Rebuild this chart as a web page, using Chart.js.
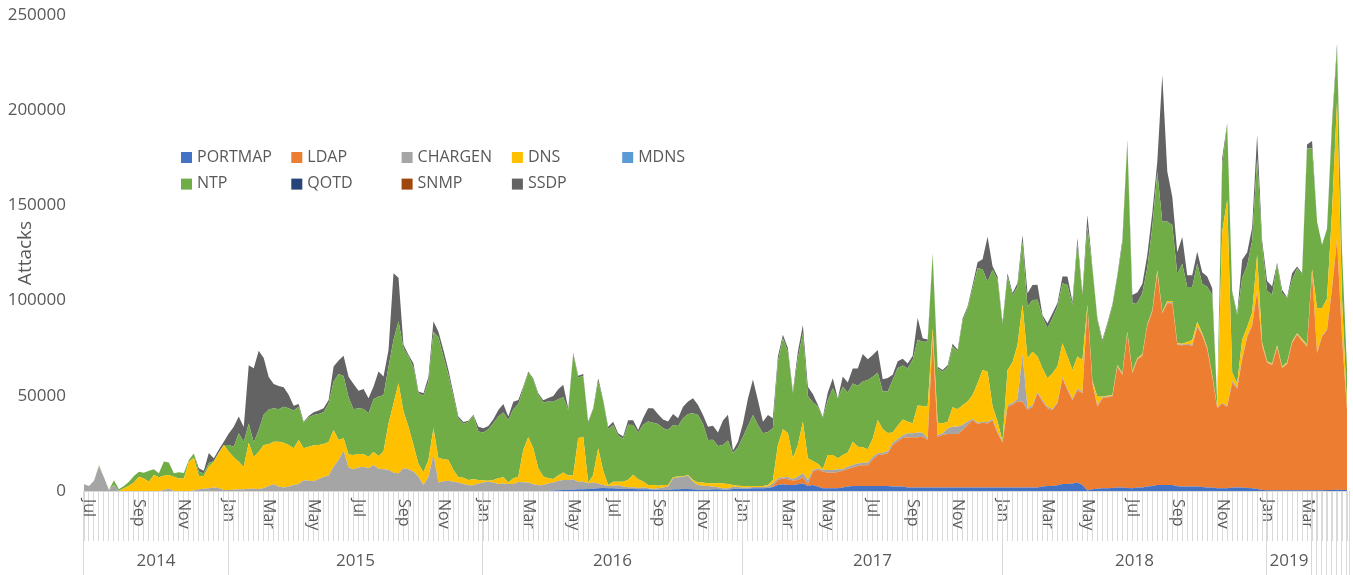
<!DOCTYPE html>
<html lang="en">
<head>
<meta charset="utf-8">
<title>Attacks per week</title>
<script src="https://cdn.jsdelivr.net/npm/chart.js@4.4.1/dist/chart.umd.min.js"></script>
<style>
  body { margin: 0; background: #ffffff; }
  canvas { display: block; }
</style>
</head>
<body>
<canvas id="attacksChart" width="1353" height="575"></canvas>
<script>
// Attacks per week, in thousands, one value per week (late June 2014 - April 2019)

const portmap = [
  0,0,0,0,0,0,0,0,0,0,
  0,0,0,0,0,0,0,0,0,0,
  0,0,0,0,0,0,0,0,0,0,
  0,0,0,0,0,0,0,0,0,0,
  0,0,0,0,0,0,0,0,0,0,
  0,0,0,0,0,0,0,0,0,0,
  0,0,0,0,0,0,0,0,0,0,
  0,0,0,0,0,0,0,0,0,0,
  0,0,0,0,0,0,0,0,0,0,
  0,0,0,0,0.2,0.4,0.5,0.5,0.7,0.9,
  0.9,1.1,1.2,1.4,1.6,1.4,1.4,1.2,1.1,1.1,
  1.1,0.9,0.9,0.9,0.7,0.7,0.5,0.5,0.9,0.9,
  1.1,1.1,0.9,0.7,0.7,0.7,0.9,0.9,0.7,0.7,
  1.1,1.2,1.2,1.2,1.4,1.4,1.4,1.6,2.1,3.2,
  3.5,3.2,3.2,3.5,4.0,2.6,3.2,2.3,1.4,1.4,
  1.4,1.4,1.9,2.3,2.6,2.6,2.6,2.6,2.6,2.6,
  2.6,2.6,2.3,2.3,2.3,1.9,1.9,1.9,1.9,1.9,
  1.9,1.9,1.9,1.9,1.9,1.8,1.9,1.9,1.8,1.9,
  1.9,1.9,1.8,1.8,1.9,1.9,1.9,1.9,1.9,1.9,
  1.9,1.9,2.3,2.6,2.6,3.0,3.7,3.7,4.0,4.4,
  3.2,0.2,0.9,1.2,1.4,1.4,1.6,1.8,1.9,1.6,
  1.4,1.8,1.9,2.3,2.6,3.2,3.2,3.2,3.2,2.5,
  2.3,2.3,2.3,2.3,2.1,1.9,1.8,1.4,1.4,1.4,
  1.8,1.8,1.8,1.6,1.4,1.1,0.5,0.4,0.4,0.4,
  0.4,0.4,0.4,0.4,0.4,0.4,0.4,0.4,0.4,0.5,
  0.5,0.7,0.5,0.5
];

const ldap = [
  0,0,0,0,0,0,0,0,0,0,
  0,0,0,0,0,0,0,0,0,0,
  0,0,0,0,0,0,0,0,0,0,
  0,0,0,0,0,0,0,0,0,0,
  0,0,0,0,0,0,0,0,0,0,
  0,0,0,0,0,0,0,0,0,0,
  0,0,0,0,0,0,0,0,0,0,
  0,0,0,0,0,0,0,0,0,0,
  0,0,0,0,0,0,0,0,0,0,
  0,0,0,0,0,0,0,0,0,0,
  0,0,0,0,0,0,0,0,0,0,
  0,0,0,0,0,0,0,0,0,0,
  0,0,0,0,0,0,0,0,0,0,
  0,0,0,0,0,0,0,0,0.5,2.6,
  3.0,3.0,2.3,2.3,3.2,0.9,7.0,8.8,8.8,8.2,
  8.2,8.6,8.8,9.3,9.8,10.5,10.9,10.9,14.0,16.3,
  16.6,17.2,21.9,23.8,25.6,26.3,26.3,26.3,26.6,24.9,
  79.1,26.6,27.5,28.0,28.0,28.2,30.1,32.8,35.5,33.3,
  34.0,33.6,35.2,28.5,23.6,42.4,43.4,45.2,45.0,40.6,
  42.4,49.4,44.6,40.8,39.9,43.1,55.5,49.4,43.8,48.7,
  48.1,96.6,55.5,43.0,47.3,47.8,48.0,63.5,59.0,81.2,
  60.4,67.2,69.0,84.6,91.4,111.1,90.1,95.4,95.4,74.2,
  74.2,74.6,73.9,84.0,79.6,72.6,58.3,42.0,44.6,42.9,
  55.1,51.9,67.2,79.3,85.4,103.6,75.8,66.9,65.6,75.1,
  64.1,66.3,77.2,81.6,78.4,75.4,114.3,72.0,80.7,84.0,
  105.9,131.1,80.0,42.0
];

const chargen = [
  3.5,2.6,5.4,13.0,7.2,0.5,3.1,0,0,0,
  0,0,0,0,0,0,0.5,1.2,0,0,
  0,0,0.3,0.9,1.2,1.4,1.8,1.6,0.5,0.5,
  0.7,0.9,0.9,1.2,1.2,1.0,1.6,2.6,3.5,2.3,
  1.9,2.3,3.2,3.7,5.6,5.4,5.1,6.3,7.4,8.2,
  12.8,16.3,21.2,12.4,11.4,12.4,12.8,11.9,13.7,11.7,
  11.4,11.2,9.6,9.3,11.9,11.4,10.3,7.5,3.2,7.5,
  19.0,4.4,5.1,5.4,4.9,4.4,3.7,3.0,3.0,4.0,
  4.4,4.9,4.4,3.7,4.0,3.7,3.7,4.7,4.6,4.4,
  3.5,3.0,3.2,3.9,4.2,4.9,5.3,5.3,5.4,4.0,
  4.0,3.0,3.2,2.6,1.6,1.2,1.4,1.8,1.2,0.9,
  0.9,0.7,1.1,0.5,0.4,0.7,1.4,1.8,5.8,6.3,
  6.3,7.0,4.0,2.5,2.1,1.9,1.4,1.1,0.7,0.7,
  1.1,0.9,0.7,0.7,0.7,0.7,0.7,0.7,1.4,0.9,
  0.7,1.1,0.7,1.8,2.1,2.3,0.9,0.7,0.9,1.4,
  1.4,1.4,0.7,1.2,1.2,1.4,1.4,1.4,1.4,0.9,
  0.9,1.1,1.2,1.2,1.2,2.1,2.1,2.5,2.1,0.9,
  0.9,0.9,0.9,2.9,3.9,3.9,2.6,1.8,0.7,0.7,
  0.5,0.7,0.7,0.9,0.4,0.9,0.9,1.2,25.0,0.9,
  0.9,0.7,0.9,0.9,0.7,0.7,0.5,0.7,0.7,0.7,
  0.7,0.4,0.5,0.7,0.5,0.4,0.4,0.5,0.4,0.5,
  0.5,0.4,0.4,0.4,0.5,0.5,0.4,0.5,0.5,0.4,
  0.5,0.5,0.7,0.5,0.5,0.4,0.4,0.4,0.4,0.4,
  0.9,0.9,0.9,0.5,0.5,0.9,0.5,0.4,0.4,0.4,
  0.4,0.4,0.4,0.4,0.4,0.5,0.5,0.5,0.5,0.5,
  0.5,0.5,0.5,0.5
];

const dns = [
  0,0,0,0,0,0,0,0,1.4,2.8,
  4.4,7.5,6.6,4.9,8.4,7.2,7.5,7.2,7.5,6.6,
  6.6,15.4,17.1,7.0,6.6,11.5,13.6,18.2,23.6,20.1,
  17.0,14.5,11.7,24.1,16.6,19.6,22.6,22.0,22.4,23.6,
  23.5,21.9,19.3,23.1,16.8,17.9,18.9,17.9,17.3,17.5,
  19.3,10.5,6.5,6.8,7.5,7.0,6.5,6.1,6.8,6.7,
  9.3,24.3,36.4,47.3,29.8,22.4,13.8,6.7,6.7,8.8,
  14.0,12.8,11.7,10.9,6.1,2.8,3.2,2.8,3.2,1.8,
  1.1,0.5,1.4,3.0,3.2,0.7,3.0,2.8,17.0,23.8,
  18.9,8.9,4.4,2.8,1.9,2.8,3.9,2.3,2.3,22.8,
  23.6,0.4,4.0,18.4,7.5,0.5,2.1,1.9,2.6,3.9,
  6.5,4.6,3.0,1.8,2.1,1.4,1.2,0.9,0.5,0.4,
  0.2,0.4,0.9,1.2,1.6,1.4,1.8,2.1,2.5,2.3,
  0.9,0.7,0.7,0.7,0.5,0.5,0.5,0.9,1.8,17.5,
  25.2,23.1,11.0,16.6,27.1,11.4,4.7,2.5,0.4,7.9,
  7.9,5.8,7.5,7.4,12.3,8.8,8.1,7.0,9.6,17.5,
  12.3,9.5,5.3,7.0,8.4,6.1,5.3,14.2,14.0,16.6,
  3.5,6.5,5.3,3.5,10.2,9.1,10.5,10.5,12.4,20.7,
  27.1,26.4,6.7,5.3,0.2,18.4,21.4,28.5,26.0,26.3,
  28.0,18.6,16.6,14.9,18.6,18.6,17.9,16.8,15.1,16.8,
  16.8,0.5,0.9,4.6,0.4,0.4,0.4,0.5,0.5,0.4,
  0.7,0.4,0.5,0.4,0.4,1.2,0.5,0.7,0.7,0.5,
  0.4,0.9,2.3,2.1,0.7,0.5,0.5,0.5,89.8,108.2,
  4.4,1.8,9.6,4.7,6.5,18.4,1.2,0.5,0.5,0.7,
  0.5,0.5,0.5,0.5,0.7,0.7,1.2,23.1,14.4,16.1,
  39.7,72.0,20.0,1.5
];

const mdns = [
  0,0,0,0,0,0,0,0,0,0, 0,0,0,0,0,0,0,0,0,0, 0,0,0,0,0,0,0,0,0,0,
  0,0,0,0,0,0,0,0,0,0, 0,0,0,0,0,0,0,0,0,0, 0,0,0,0,0,0,0,0,0,0,
  0,0,0,0,0,0,0,0,0,0, 0,0,0,0,0,0,0,0,0,0, 0,0,0,0,0,0,0,0,0,0,
  0,0,0,0,0,0,0,0,0,0, 0,0,0,0,0,0,0,0,0,0, 0,0,0,0,0,0,0,0,0,0,
  0,0,0,0,0,0,0,0,0,0, 0,0,0,0,0,0,0,0,0,0, 0,0,0,0,0,0,0,0,0,0,
  0,0,0,0,0,0,0,0,0,0, 0,0,0,0,0,0,0,0,0,0, 0,0,0,0,0,0,0,0,0,0,
  0,0,0,0,0,0,0,0,0,0, 0,0,0,0,0,0,0,0,0,0, 0,0,0,0,0,0,0,0,0,0,
  0,0,0,0,0,0,0,0,0,0, 0,0,0,0,0,0,0,0,0,0, 0,0,0,0,0,0,0,0,0,0,
  0,0,0,0,0,0,0,0,0,0, 0,0,0,0
];

const ntp = [
  0,0,0,0.5,0,0,2.6,0.9,1.2,2.1,
  3.5,2.6,3.0,5.8,3.0,2.1,7.5,6.6,1.8,3.2,
  2.9,0.9,2.3,2.3,1.4,1.8,0.4,0.4,0,3.5,
  5.6,14.9,13.1,10.2,7.7,11.4,15.8,18.2,17.5,17.0,
  18.9,19.3,19.8,17.5,13.5,15.4,15.9,16.3,16.6,20.3,
  25.4,34.7,32.7,29.9,24.0,24.0,23.8,22.8,27.7,31.2,
  29.6,29.8,33.3,32.6,33.3,36.8,40.8,37.1,40.1,41.1,
  50.6,63.5,53.7,44.6,38.5,30.8,28.4,30.6,33.3,25.4,
  25.2,27.0,29.8,32.4,34.0,32.9,36.2,38.2,32.4,34.0,
  36.2,38.5,38.9,40.3,40.6,40.1,39.6,34.5,63.5,31.9,
  31.9,31.5,34.7,35.0,36.8,29.4,29.6,24.3,22.6,28.9,
  26.1,24.5,29.8,33.3,32.7,32.4,29.9,28.9,27.5,26.6,
  30.6,32.0,35.0,35.5,30.8,22.8,22.8,19.6,20.3,22.8,
  16.8,20.1,25.9,31.5,37.3,32.0,27.7,27.8,27.1,43.8,
  47.8,42.9,34.1,45.5,46.4,32.7,30.8,30.1,26.8,28.9,
  35.0,31.5,35.9,31.5,30.6,32.0,34.5,36.4,32.4,25.0,
  19.8,21.9,27.7,30.3,28.4,28.0,33.3,34.5,33.8,34.1,
  38.5,28.5,27.1,28.5,31.9,30.3,44.3,49.0,56.0,60.4,
  52.9,47.3,71.8,74.4,61.6,49.0,35.2,30.6,33.0,27.1,
  27.1,29.8,27.1,26.3,28.9,31.5,31.5,37.6,34.1,59.5,
  34.1,41.1,59.0,40.3,28.9,37.3,46.6,46.2,68.3,99.8,
  35.5,29.1,32.0,29.4,43.8,51.6,47.3,41.7,39.9,36.4,
  42.0,28.9,28.0,30.6,25.9,31.9,42.0,3.0,35.0,39.4,
  42.0,35.9,32.4,32.4,37.6,50.8,50.8,36.8,36.2,42.4,
  38.5,33.6,32.4,34.1,33.6,102.9,63.5,45.5,33.3,36.4,
  45.5,28.0,25.0,20.0
];

const qotd = [
  0,0,0,0,0,0,0,0,0,0, 0,0,0,0,0,0,0,0,0,0, 0,0,0,0,0,0,0,0,0,0,
  0,0,0,0,0,0,0,0,0,0, 0,0,0,0,0,0,0,0,0,0, 0,0,0,0,0,0,0,0,0,0,
  0,0,0,0,0,0,0,0,0,0, 0,0,0,0,0,0,0,0,0,0, 0,0,0,0,0,0,0,0,0,0,
  0,0,0,0,0,0,0,0,0,0, 0,0,0,0,0,0,0,0,0,0, 0,0,0,0,0,0,0,0,0,0,
  0,0,0,0,0,0,0,0,0,0, 0,0,0,0,0,0,0,0,0,0, 0,0,0,0,0,0,0,0,0,0,
  0,0,0,0,0,0,0,0,0,0, 0,0,0,0,0,0,0,0,0,0, 0,0,0,0,0,0,0,0,0,0,
  0,0,0,0,0,0,0,0,0,0, 0,0,0,0,0,0,0,0,0,0, 0,0,0,0,0,0,0,0,0,0,
  0,0,0,0,0,0,0,0,0,0, 0,0,0,0,0,0,0,0,0,0, 0,0,0,0,0,0,0,0,0,0,
  0,0,0,0,0,0,0,0,0,0, 0,0,0,0
];

const snmp = [
  0,0,0,0,0,0,0,0,0,0, 0,0,0,0,0,0,0,0,0,0, 0,0,0,0,0,0,0,0,0,0,
  0,0,0,0,0,0,0,0,0,0, 0,0,0,0,0,0,0,0,0,0, 0,0,0,0,0,0,0,0,0,0,
  0,0,0,0,0,0,0,0,0,0, 0,0,0,0,0,0,0,0,0,0, 0,0,0,0,0,0,0,0,0,0,
  0,0,0,0,0,0,0,0,0,0, 0,0,0,0,0,0,0,0,0,0, 0,0,0,0,0,0,0,0,0,0,
  0,0,0,0,0,0,0,0,0,0, 0,0,0,0,0,0,0,0,0,0, 0,0,0,0,0,0,0,0,0,0,
  0,0,0,0,0,0,0,0,0,0, 0,0,0,0,0,0,0,0,0,0, 0,0,0,0,0,0,0,0,0,0,
  0,0,0,0,0,0,0,0,0,0, 0,0,0,0,0,0,0,0,0,0, 0,0,0,0,0,0,0,0,0,0,
  0,0,0,0,0,0,0,0,0,0, 0,0,0,0,0,0,0,0,0,0, 0,0,0,0,0,0,0,0,0,0,
  0,0,0,0,0,0,0,0,0,0, 0,0,0,0
];

const ssdp = [
  0,0,0,0,0,0,0,0,0,0,
  0,0,0,0,0,0,0,0,0,0,
  0,0,0,1.8,1.4,5.3,1.4,1.4,1.8,6.1,
  10.5,8.8,7.9,30.6,39.0,41.6,29.8,17.1,12.8,12.3,
  10.2,7.0,2.5,1.4,0.5,0.7,1.4,1.8,2.1,1.8,
  7.9,7.0,10.7,10.9,13.3,9.3,10.5,7.9,6.7,13.1,
  9.8,8.8,35.0,22.8,1.8,0.9,2.1,0.9,1.4,2.6,
  5.6,3.0,3.5,2.6,1.8,1.1,0.9,0.5,0.5,2.6,
  2.3,1.8,2.1,3.5,4.5,1.8,4.0,2.1,0.9,0.5,
  0.5,0.9,1.1,1.8,3.0,5.3,6.5,0.9,0.7,0.9,
  1.1,0.5,0.4,1.8,0.4,1.2,1.9,1.1,1.1,2.3,
  2.5,1.4,3.5,7.0,7.5,5.1,4.6,4.4,5.8,4.0,
  6.1,6.5,7.9,5.3,4.7,7.0,7.4,7.0,12.8,13.5,
  1.4,3.0,7.0,14.5,18.7,13.1,6.1,8.9,5.3,2.6,
  1.8,1.8,0.9,3.5,4.4,4.9,4.4,0.9,0.5,3.9,
  5.3,0,5.3,5.3,7.9,9.1,14.4,10.9,11.4,11.7,
  6.5,7.0,2.6,3.5,3.5,2.6,2.1,11.4,1.8,1.2,
  0.9,0.9,0.9,1.2,1.4,0.9,1.2,0.9,1.8,3.2,
  5.3,23.6,1.8,1.8,0.9,1.8,1.2,1.8,3.5,7.0,
  7.9,7.9,0.9,2.6,2.6,1.8,3.5,4.4,1.8,2.6,
  0.9,6.1,0.9,0.9,0.9,0.9,0.9,0.9,1.8,0.9,
  4.4,5.3,4.9,7.0,7.4,5.3,77.0,26.3,14.9,11.4,
  14.0,6.1,6.1,6.1,6.1,5.3,3.5,0,3.5,0.9,
  0.9,0.9,9.6,6.7,7.0,12.3,2.6,5.3,4.4,0.9,
  1.8,0.4,3.5,0.9,0.9,2.1,3.9,0,0,0.4,
  1.8,2.6,0.5,0
];

const seriesNames = ['PORTMAP', 'LDAP', 'CHARGEN', 'DNS', 'MDNS', 'NTP', 'QOTD', 'SNMP', 'SSDP'];
const seriesData = [portmap, ldap, chargen, dns, mdns, ntp, qotd, snmp, ssdp];
const seriesColors = ['#4472C4', '#ED7D31', '#A5A5A5', '#FFC000', '#5B9BD5', '#70AD47', '#264478', '#9E480E', '#636363'];

// Months named under the axis: [week index, name]
const monthTicks = [
  [1, 'Jul'], [11, 'Sep'], [20, 'Nov'],
  [29, 'Jan'], [37, 'Mar'], [46, 'May'], [55, 'Jul'], [64, 'Sep'], [72, 'Nov'],
  [80, 'Jan'], [89, 'Mar'], [98, 'May'], [106, 'Jul'], [115, 'Sep'], [124, 'Nov'],
  [132, 'Jan'], [141, 'Mar'], [149, 'May'], [158, 'Jul'], [166, 'Sep'], [175, 'Nov'],
  [184, 'Jan'], [193, 'Mar'], [201, 'May'], [210, 'Jul'], [219, 'Sep'], [228, 'Nov'],
  [237, 'Jan'], [245, 'Mar']
];

// Years under the months: [name, first week, first week after]
const yearGroups = [
  ['2014', 0, 29], ['2015', 29, 80], ['2016', 80, 132],
  ['2017', 132, 184], ['2018', 184, 237], ['2019', 237, 246]
];

const weeks = portmap.map((_, i) => i);

const textColor = '#595959';
const lineColor = '#D9D9D9';


// Legend inside the plot, two rows

const insideLegend = {
  id: 'insideLegend',
  afterDraw(chart) {
    const ctx = chart.ctx;
    ctx.save();
    ctx.font = '16px "Open Sans"';
    ctx.textBaseline = 'middle';
    ctx.textAlign = 'left';
    chart.data.datasets.forEach((ds, i) => {
      const x = 181 + (i % 5) * 110.3;
      const y = 157 + Math.floor(i / 5) * 26.6;
      ctx.fillStyle = ds.backgroundColor;
      ctx.fillRect(x, y - 5, 11, 11);
      ctx.fillStyle = textColor;
      ctx.fillText(ds.label, x + 16, y);
    });
    ctx.restore();
  }
};


// Month names, year groups and their dividers under the x axis

const timeAxis = {
  id: 'timeAxis',
  afterDraw(chart) {
    const { ctx, scales: { x } } = chart;
    const top = x.top;
    const bottom = chart.height;
    ctx.save();

    ctx.fillStyle = textColor;
    ctx.font = '16px "Open Sans"';
    ctx.textBaseline = 'middle';
    ctx.textAlign = 'left';
    monthTicks.forEach(([w, name]) => {
      ctx.save();
      ctx.translate(x.getPixelForValue(w), top + 8);
      ctx.rotate(Math.PI / 2);
      ctx.fillText(name, 0, 0);
      ctx.restore();
    });

    const edge = w => Math.round(x.getPixelForValue(w)) - 0.5;
    const cuts = [];
    yearGroups.forEach(([, a, b]) => cuts.push(a, b));
    for (let w = yearGroups[yearGroups.length - 1][2] + 1; w < weeks.length; w++) cuts.push(w);

    ctx.strokeStyle = lineColor;
    ctx.lineWidth = 1;
    ctx.beginPath();
    cuts.forEach(w => {
      ctx.moveTo(edge(w), top);
      ctx.lineTo(edge(w), bottom);
    });
    ctx.moveTo(Math.round(x.right) + 2.5, top);
    ctx.lineTo(Math.round(x.right) + 2.5, bottom);
    ctx.stroke();

    ctx.font = '17px "Open Sans"';
    ctx.textAlign = 'center';
    yearGroups.forEach(([name, a, b]) => {
      ctx.fillText(name, (edge(a) + edge(b)) / 2, 561);
    });
    ctx.restore();
  }
};


// Stacked area chart

const ctx = document.getElementById('attacksChart').getContext('2d');

const attacksChart = new Chart(ctx, {
  type: 'line',
  data: {
    labels: weeks,
    datasets: seriesNames.map((name, i) => ({
      label: name,
      data: seriesData[i],
      backgroundColor: seriesColors[i],
      borderColor: seriesColors[i],
      borderWidth: 0,
      pointRadius: 0,
      pointHoverRadius: 0,
      tension: 0,
      fill: i === 0 ? 'origin' : '-1'
    }))
  },
  options: {
    responsive: false,
    animation: false,
    devicePixelRatio: 1,
    events: [],
    layout: { padding: { top: 15, right: 6, bottom: 0, left: 0 } },
    plugins: {
      legend: { display: false },
      tooltip: { enabled: false }
    },
    scales: {
      x: {
        type: 'category',
        offset: false,
        ticks: { display: false, autoSkip: false },
        grid: { display: true, drawOnChartArea: false, drawTicks: true, tickLength: 50, color: lineColor },
        border: { display: true, color: lineColor },
        afterFit: (scale) => { scale.height = 84; }
      },
      y: {
        stacked: true,
        min: 0,
        max: 250,
        ticks: {
          stepSize: 50,
          color: textColor,
          padding: 2,
          font: { family: 'Open Sans', size: 17 },
          callback: (value) => String(value * 1000)
        },
        grid: { display: false, drawTicks: true, tickLength: 16 },
        border: { display: false },
        title: {
          display: true,
          text: 'Attacks',
          color: textColor,
          font: { family: 'Open Sans', size: 19 },
          padding: { top: 14, bottom: 0 }
        },
        afterFit: (scale) => { scale.width = 84; }
      }
    }
  },
  plugins: [insideLegend, timeAxis]
});
</script>
</body>
</html>
